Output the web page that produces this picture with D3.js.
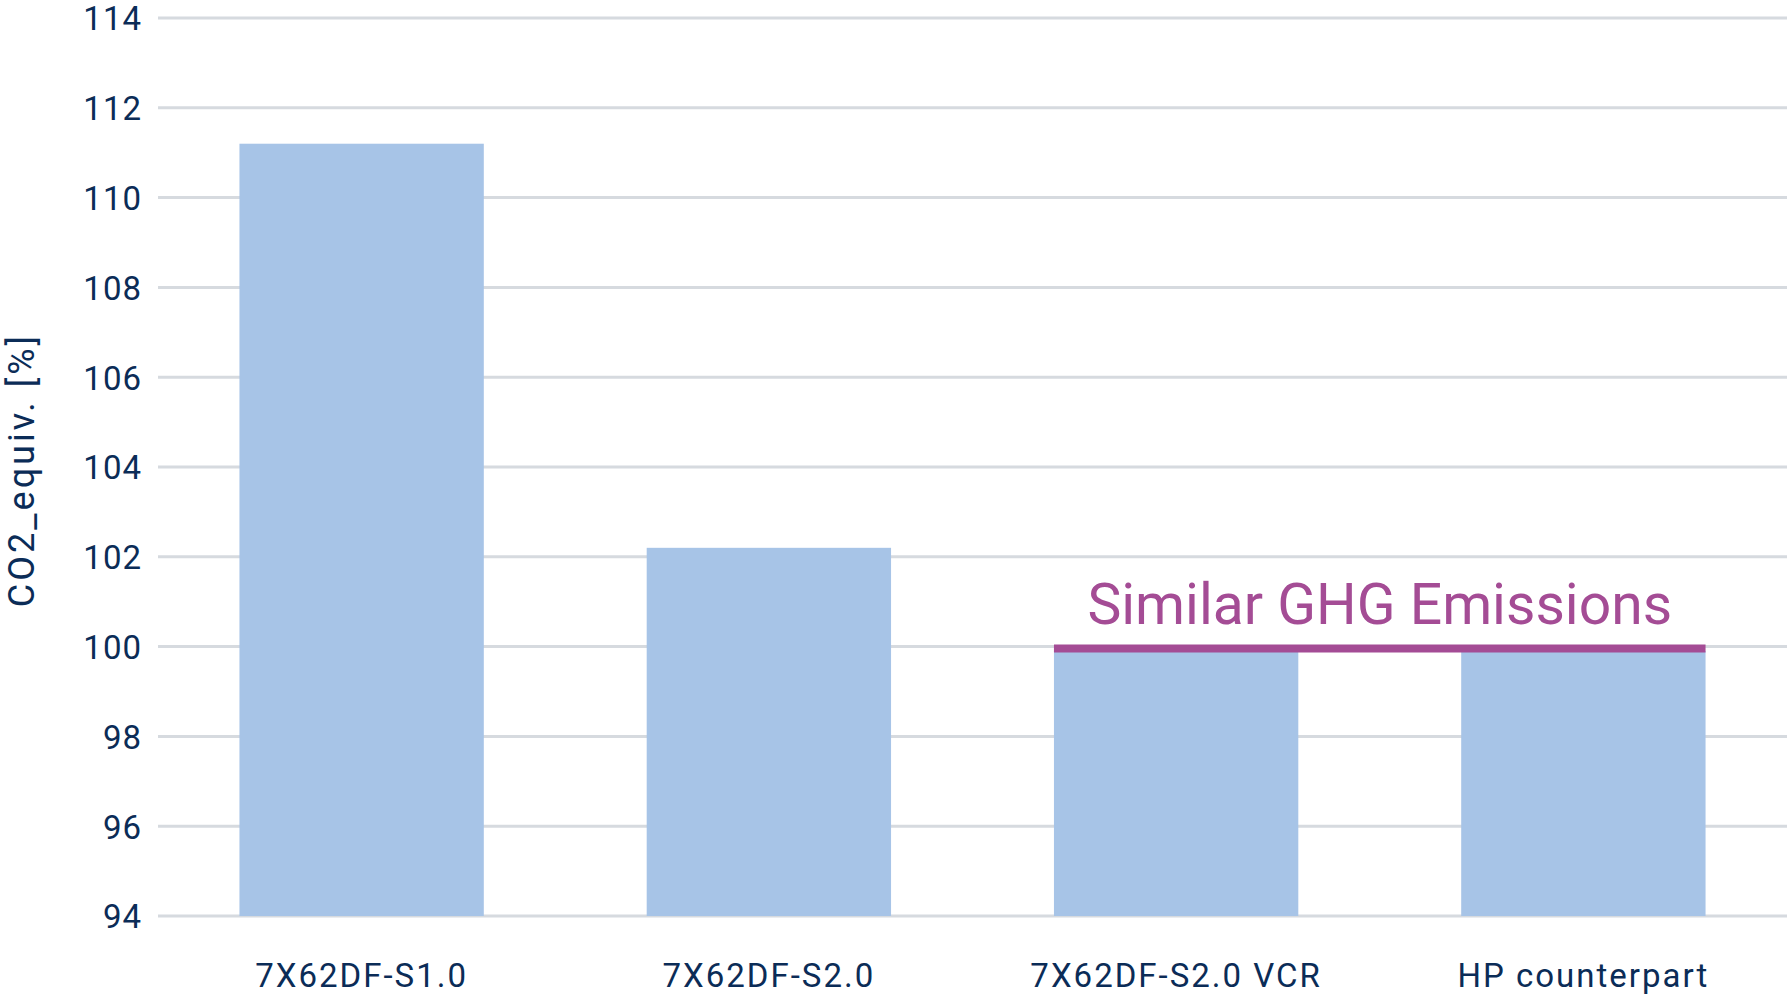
<!DOCTYPE html>
<html>
<head>
<meta charset="utf-8">
<script src="https://cdn.jsdelivr.net/npm/d3@7"></script>
<style>
  html, body { margin: 0; padding: 0; background: #ffffff; }
  svg { display: block; }
  text { font-family: Roboto, "Noto Sans", sans-serif; }
</style>
</head>
<body>
<svg id="chart" width="1787" height="996"></svg>
<script>
const categories = ["7X62DF-S1.0", "7X62DF-S2.0", "7X62DF-S2.0 VCR", "HP counterpart"];
const values = [111.2, 102.2, 99.9, 99.9];
const yTicks = [94, 96, 98, 100, 102, 104, 106, 108, 110, 112, 114];
const yLabel = "CO2_equiv. [%]";
const annotationText = "Similar GHG Emissions";
const annotationValue = 100;
const annotationSpan = ["7X62DF-S2.0 VCR", "HP counterpart"];

(function () {
const navy = "#0b2c57";
const barColor = "#a7c4e7";
const gridColor = "#d6dadf";
const purple = "#a44c95";

const svg = d3.select("#chart");
const mLeft = 158, mRight = 1787, mTop = 18, mBottom = 916;

const x = d3.scaleBand().domain(categories).range([mLeft, mRight])
  .paddingInner(0.4).paddingOuter(0.2);
const y = d3.scaleLinear().domain([94, 114]).range([mBottom, mTop]);

// gridlines
svg.append("g").selectAll("line").data(yTicks).join("line")
  .attr("x1", mLeft).attr("x2", mRight)
  .attr("y1", d => y(d)).attr("y2", d => y(d))
  .attr("stroke", gridColor).attr("stroke-width", 3);

// y tick labels via axis
const yAxis = svg.append("g").attr("transform", `translate(${mLeft - 16},0)`)
  .call(d3.axisLeft(y).tickValues(yTicks).tickSize(0).tickPadding(0));
yAxis.select(".domain").remove();
yAxis.selectAll("text")
  .attr("fill", navy).style("font-size", "33px")
  .style("font-family", "Roboto, sans-serif").attr("dy", "0.36em")
  .attr("letter-spacing", "1px");

// bars
svg.append("g").selectAll("rect").data(categories).join("rect")
  .attr("x", d => x(d)).attr("width", x.bandwidth())
  .attr("y", (d, i) => y(values[i]))
  .attr("height", (d, i) => y(94) - y(values[i]))
  .attr("fill", barColor);

// x labels
const xAxis = svg.append("g").attr("transform", `translate(0,${mBottom})`)
  .call(d3.axisBottom(x).tickSize(0).tickPadding(0));
xAxis.select(".domain").remove();
xAxis.selectAll("text")
  .attr("fill", navy).style("font-size", "33px")
  .style("font-family", "Roboto, sans-serif")
  .attr("y", 71).attr("dy", null)
  .attr("letter-spacing", "2px");

// annotation line
const ax1 = x(annotationSpan[0]);
const ax2 = x(annotationSpan[1]) + x.bandwidth();
svg.append("line")
  .attr("x1", ax1).attr("x2", ax2)
  .attr("y1", y(annotationValue) + 2).attr("y2", y(annotationValue) + 2)
  .attr("stroke", purple).attr("stroke-width", 8);

svg.append("text")
  .attr("x", (ax1 + ax2) / 2).attr("y", y(annotationValue) - 23)
  .attr("text-anchor", "middle").attr("fill", purple)
  .style("font-size", "57px")
  .text(annotationText);

// y axis title
svg.append("text")
  .attr("transform", `translate(34,470) rotate(-90)`)
  .attr("text-anchor", "middle").attr("fill", navy)
  .style("font-size", "36px").attr("letter-spacing", "3px")
  .text(yLabel);
})();
</script>
</body>
</html>
